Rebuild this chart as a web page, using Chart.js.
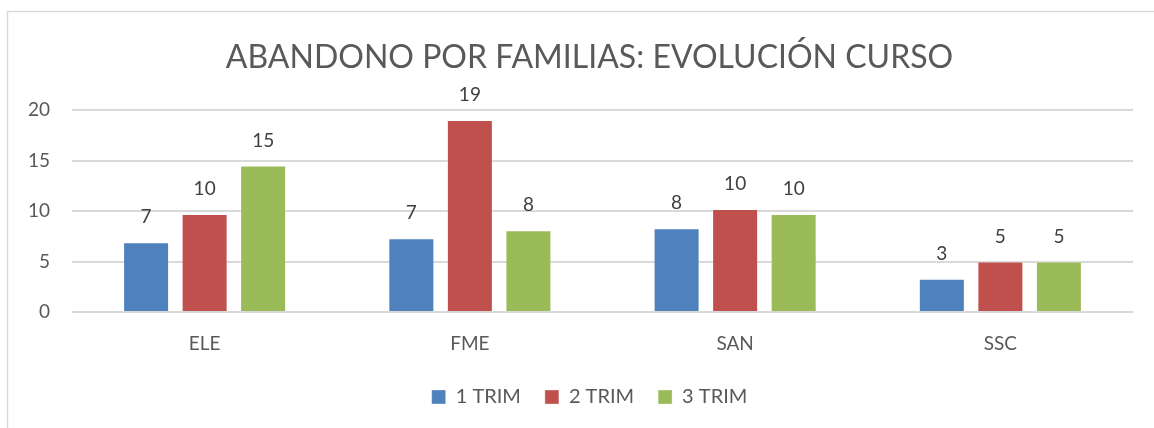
<!DOCTYPE html>
<html>
<head>
<meta charset="utf-8">
<script src="https://cdn.jsdelivr.net/npm/chart.js@4"></script>
<style>
html,body{margin:0;padding:0;background:#fff;}
#wrap{width:1154px;height:428px;position:relative;}
</style>
</head>
<body>
<div id="wrap"><canvas id="c" width="1154" height="428"></canvas></div>
<script>
const categories = ['ELE', 'FME', 'SAN', 'SSC'];
const seriesNames = ['1 TRIM', '2 TRIM', '3 TRIM'];
const trim1 = [6.9, 7.3, 8.3, 3.3];
const trim2 = [9.7, 19.0, 10.2, 5.0];
const trim3 = [14.5, 8.1, 9.7, 5.0];
const yTicks = [0, 5, 10, 15, 20];
const titleText = 'ABANDONO POR FAMILIAS: EVOLUCIÓN CURSO';

const colors = ['#4F81BD', '#C0504D', '#9BBB59'];
const FONT = "Lato, 'Open Sans', sans-serif";

const borderPlugin = {
  id: 'outerBorder',
  afterLayout(chart) {
    // widen the y-axis label clip area to the canvas edge
    chart.scales.y.left = 0;
  },
  beforeDraw(chart) {
    const ctx = chart.ctx;
    ctx.save();
    ctx.strokeStyle = '#d9d9d9';
    ctx.lineWidth = 1.5;
    ctx.beginPath();
    ctx.moveTo(7.5, 428);
    ctx.lineTo(7.5, 11.5);
    ctx.lineTo(1154, 11.5);
    ctx.stroke();
    ctx.restore();
  }
};

const labelPlugin = {
  id: 'valueLabels',
  afterDatasetsDraw(chart) {
    const ctx = chart.ctx;
    ctx.save();
    ctx.font = '19px ' + FONT;
    ctx.fillStyle = '#404040';
    ctx.textAlign = 'center';
    ctx.textBaseline = 'middle';
    chart.data.datasets.forEach((ds, i) => {
      const meta = chart.getDatasetMeta(i);
      meta.data.forEach((el, j) => {
        ctx.fillText(String(Math.round(ds.data[j])), el.x, el.y - 25);
      });
    });
    ctx.restore();
  }
};

new Chart(document.getElementById('c'), {
  type: 'bar',
  data: {
    labels: categories,
    datasets: [trim1, trim2, trim3].map((d, i) => ({
      label: seriesNames[i],
      data: d,
      backgroundColor: colors[i],
      borderColor: 'rgba(255,255,255,0.35)',
      borderWidth: 1,
      categoryPercentage: 0.662,
      barPercentage: 0.786
    }))
  },
  options: {
    responsive: false,
    animation: false,
    devicePixelRatio: 1,
    layout: { padding: { left: 46, right: 21, top: 0, bottom: 11 } },
    plugins: {
      title: {
        display: true,
        text: titleText,
        color: '#595959',
        font: { family: FONT, size: 32, weight: 'normal' },
        padding: { top: 38, bottom: 33.6 }
      },
      legend: {
        position: 'bottom',
        labels: {
          color: '#595959',
          font: { family: FONT, size: 20 },
          boxWidth: 14,
          boxHeight: 14,
          padding: 24
        }
      },
      tooltip: { enabled: false }
    },
    scales: {
      x: {
        grid: { display: false, drawTicks: false },
        border: { display: false },
        ticks: { color: '#595959', font: { family: FONT, size: 19 }, padding: 20 },
        afterFit(scale) { scale.height = 51; }
      },
      y: {
        min: 0, max: 20,
        afterBuildTicks(scale) { scale.ticks = yTicks.map(v => ({ value: v })); },
        grid: { color: '#d9d9d9', lineWidth: 2, drawTicks: false },
        border: { display: false },
        ticks: { color: '#595959', font: { family: FONT, size: 19 }, padding: 22 },
        afterFit(scale) { scale.width = 26; }
      }
    }
  },
  plugins: [borderPlugin, labelPlugin]
});
</script>
</body>
</html>
